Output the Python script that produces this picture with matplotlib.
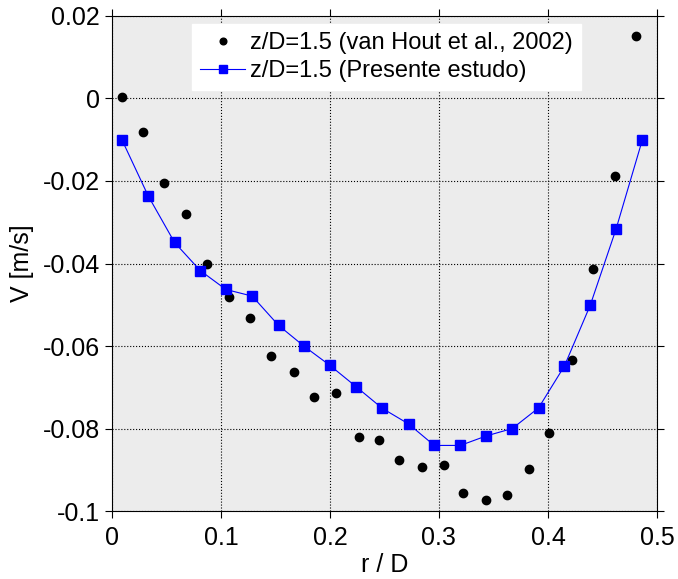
import matplotlib
matplotlib.use('Agg')
import matplotlib.pyplot as plt

plt.rcParams['font.family'] = ['Liberation Sans', 'DejaVu Sans']

# van Hout et al., 2002 (z/D=1.5)
r_ref = [0.0092, 0.0284, 0.048, 0.0679, 0.0872, 0.1076, 0.1269, 0.1459, 0.167,
         0.1856, 0.2055, 0.2266, 0.2453, 0.2633, 0.2844, 0.3049, 0.3223, 0.3434,
         0.3624, 0.3829, 0.4012, 0.422, 0.4416, 0.4618, 0.481]
v_ref = [0.0003, -0.0082, -0.0206, -0.0281, -0.0402, -0.0482, -0.0533, -0.0625, -0.0664,
         -0.0724, -0.0715, -0.0821, -0.0829, -0.0876, -0.0894, -0.0889, -0.0956, -0.0974,
         -0.0962, -0.0897, -0.0812, -0.0634, -0.0413, -0.0188, 0.0152]

# presente estudo (z/D=1.5)
r_cfd = [0.0092, 0.0333, 0.0575, 0.081, 0.1046, 0.1287, 0.1529, 0.1765, 0.2, 0.2242,
         0.248, 0.2722, 0.2957, 0.3196, 0.3434, 0.3673, 0.3914, 0.415, 0.4388, 0.4624, 0.4865]
v_cfd = [-0.0100, -0.0236, -0.0349, -0.0417, -0.0463, -0.0479, -0.0550, -0.0601, -0.0647,
         -0.0699, -0.0751, -0.0789, -0.0841, -0.0841, -0.0818, -0.0800, -0.0750, -0.0649,
         -0.0501, -0.0317, -0.0101]

xticks = [0, 0.1, 0.2, 0.3, 0.4, 0.5]
xtick_labels = ['0', '0.1', '0.2', '0.3', '0.4', '0.5']
yticks = [-0.1, -0.08, -0.06, -0.04, -0.02, 0, 0.02]
ytick_labels = ['-0.1', '-0.08', '-0.06', '-0.04', '-0.02', '0', '0.02']

fig = plt.figure(figsize=(6.78, 5.79), dpi=100)
ax = fig.add_axes([0.165, 0.1174, 0.804, 0.855])
ax.set_facecolor('#ececec')

ax.plot(r_ref, v_ref, 'o', color='k', ms=6, ls='none',
        label='z/D=1.5 (van Hout et al., 2002)')
ax.plot(r_cfd, v_cfd, '-s', color='#0000ff', lw=0.8, ms=6.5, mec='#0000ff',
        label='z/D=1.5 (Presente estudo)')

ax.set_xlim(0, 0.5)
ax.set_ylim(-0.1, 0.02)
ax.set_xticks(xticks)
ax.set_xticklabels(xtick_labels)
ax.set_yticks(yticks)
ax.set_yticklabels(ytick_labels)
ax.tick_params(direction='out', length=5, labelsize=18, top=True, right=True,
               width=0.8)
ax.tick_params(axis='x', pad=6)
ax.grid(True, color='k', ls=':', lw=0.8)
ax.set_axisbelow(True)

ax.set_xlabel('r / D', fontsize=18, labelpad=2)
ax.set_ylabel('V [m/s]', fontsize=18, labelpad=6)

leg = ax.legend(loc='upper left', bbox_to_anchor=(0.147, 0.984), borderaxespad=0,
                fontsize=17, frameon=True, fancybox=False, edgecolor='white',
                framealpha=1, handlelength=1.9, handletextpad=0.2,
                borderpad=0.35, labelspacing=0.25, markerscale=0.8)

fig.savefig('out.png', dpi=100)
